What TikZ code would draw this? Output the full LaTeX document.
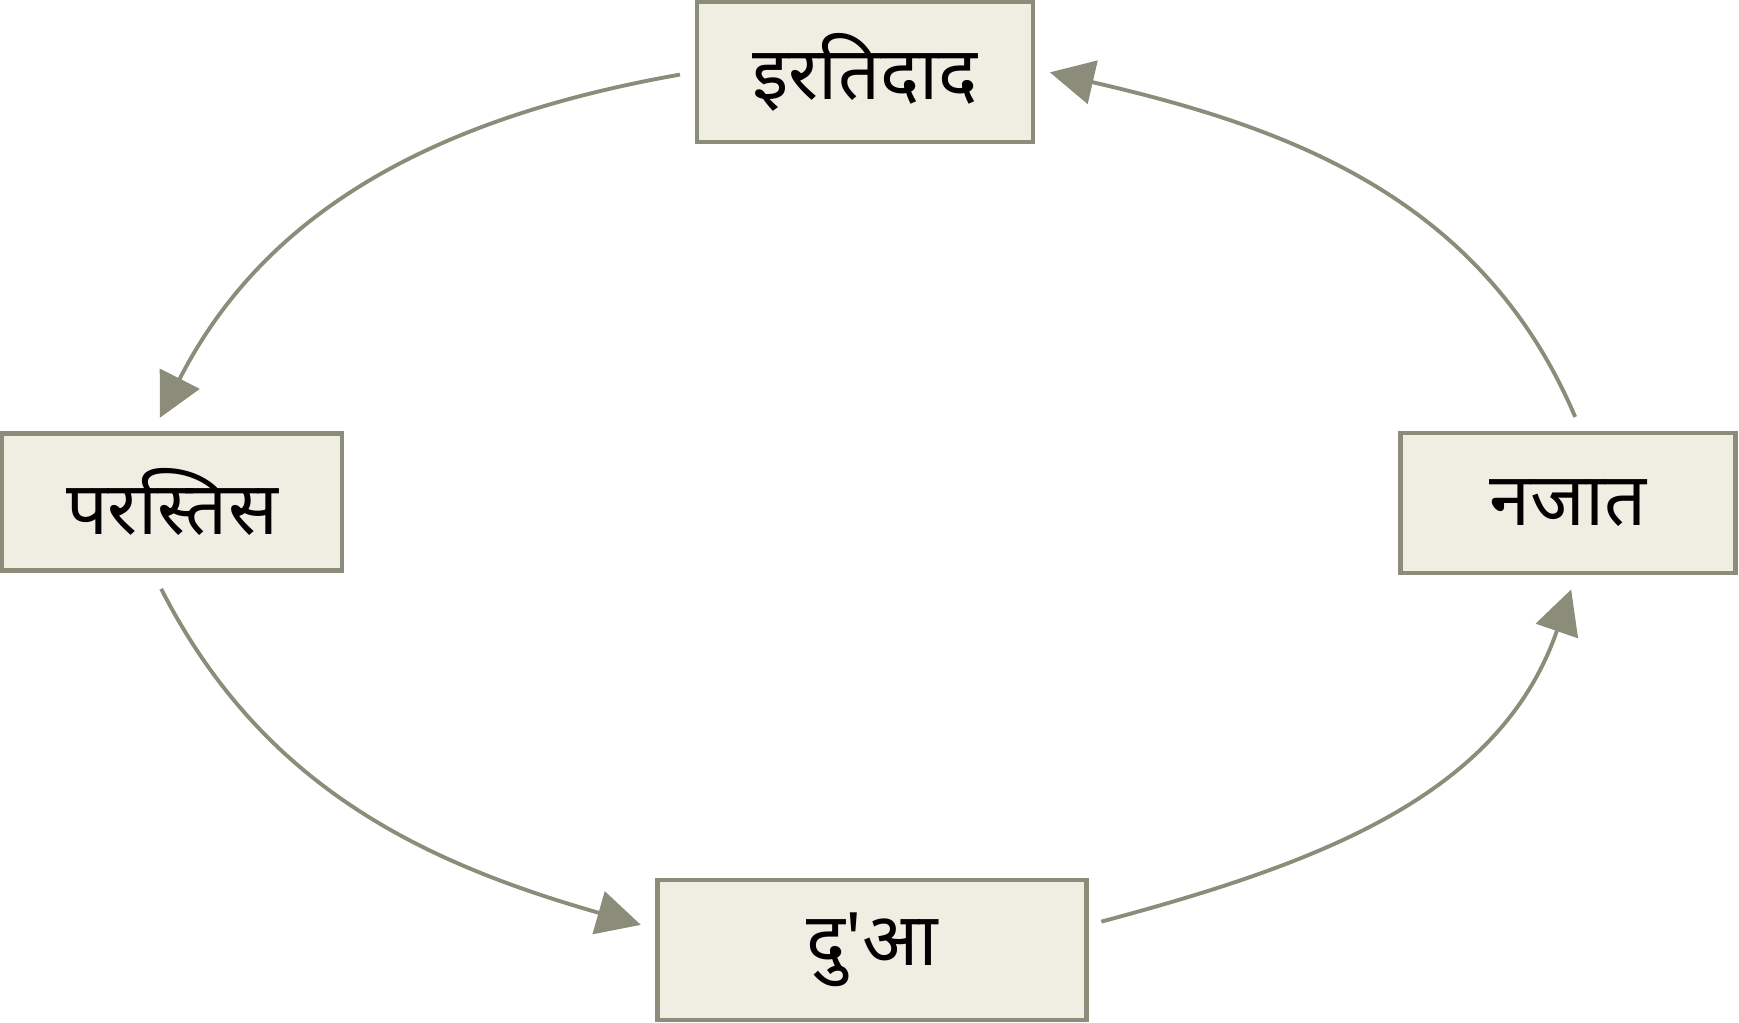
\documentclass[tikz,border=0pt]{standalone}
\usepackage{fontspec}
\newfontfamily\devfont[Script=Devanagari]{Noto Sans}
\usepackage{tikz}
\usetikzlibrary{arrows.meta}
\usetikzlibrary{positioning}
\definecolor{boxline}{HTML}{8C8C7B}
\definecolor{boxfill}{HTML}{F0EEE3}
\begin{document}
\begin{tikzpicture}[>={Triangle[length=12.5pt,width=12.5pt]},
    box node/.style={rectangle,draw=boxline,fill=boxfill,line width=1.3pt,minimum height=1.4cm,font=\devfont\fontsize{21}{25}\selectfont},
    cycle edge/.style={->,color=boxline,line width=1.1pt,shorten <=0.15cm,shorten >=0.15cm}]
  \useasboundingbox (0,0) rectangle (17.39,-10.23);
   \begin{scope}
      \node[box node,minimum width=3.36cm] (irt) at (8.65,-0.72) {इरतिदाद};
      \node[box node,minimum width=3.40cm,minimum height=1.37cm] (par) at (1.72,-5.02) {परस्तिस};
      \node[box node,minimum width=3.35cm] (naj) at (15.68,-5.03) {नजात};
      \node[box node,minimum width=4.29cm] (dua) at (8.72,-9.50) {दु'आ};
       \path[cycle edge] (irt.west) edge[out=190,in=63] ([xshift=-0.19cm]par.north);
       \path[cycle edge,shorten <=0.18cm] ([xshift=-0.19cm]par.south) edge[out=-63,in=164] ([yshift=0.21cm]dua.west);
       \path[cycle edge,shorten <=0.13cm] ([yshift=0.25cm]dua.east) edge[out=15,in=-109] ([xshift=0.08cm]naj.south);
       \path[cycle edge] ([xshift=0.13cm]naj.north) edge[out=113,in=-13] ([yshift=0.03cm]irt.east);
    \end{scope}
  \end{tikzpicture}
\end{document}
